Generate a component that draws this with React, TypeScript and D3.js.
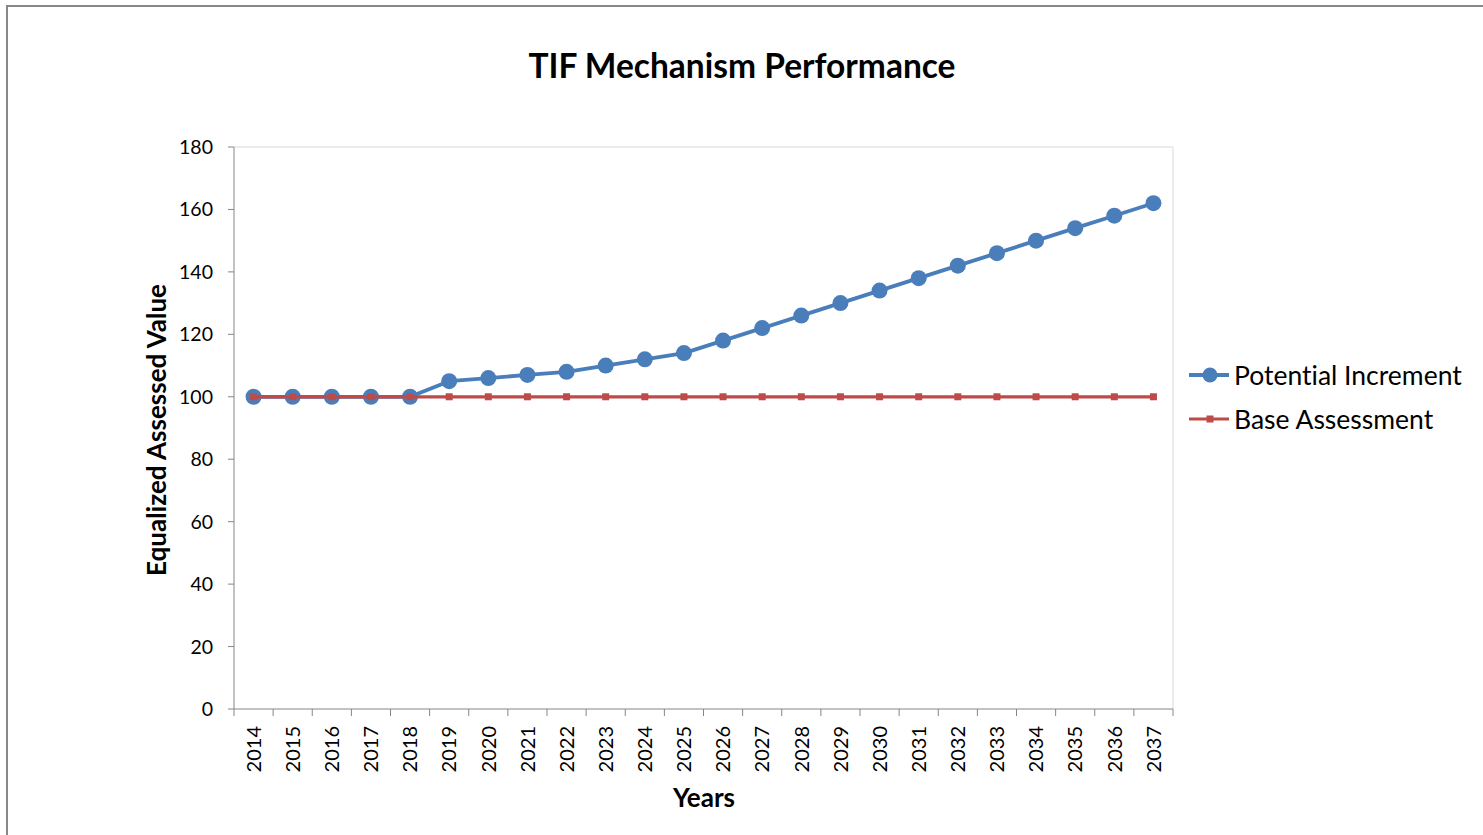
import React from 'react';
import { scaleBand, scaleLinear, line } from 'd3';

// chart data
const years = ['2014', '2015', '2016', '2017', '2018', '2019', '2020', '2021', '2022', '2023', '2024', '2025',
    '2026', '2027', '2028', '2029', '2030', '2031', '2032', '2033', '2034', '2035', '2036', '2037'];
const potentialIncrement = [100, 100, 100, 100, 100, 105, 106, 107, 108, 110, 112, 114,
    118, 122, 126, 130, 134, 138, 142, 146, 150, 154, 158, 162];
const baseAssessment = [100, 100, 100, 100, 100, 100, 100, 100, 100, 100, 100, 100,
    100, 100, 100, 100, 100, 100, 100, 100, 100, 100, 100, 100];
const yTicks = [0, 20, 40, 60, 80, 100, 120, 140, 160, 180];

const FONT = 'Lato, "Open Sans", sans-serif';
const BLUE = '#4A7EBB';
const RED = '#BE4B48';

export default function App() {
    const width = 1483;
    const height = 835;
    const plot = { left: 234, right: 1173, top: 147, bottom: 709 };

    const xScale = scaleBand<string>().domain(years).range([plot.left, plot.right]);
    const yScale = scaleLinear().domain([0, 180]).range([plot.bottom, plot.top]);
    const cx = (y: string) => (xScale(y) ?? 0) + xScale.bandwidth() / 2;

    const pathGen = line<number>()
        .x((_, i) => cx(years[i]))
        .y(d => yScale(d));

    return (
        <svg
            width={width}
            height={height}
            style={{ position: 'absolute', left: 0, top: 0, background: '#fff', fontVariantLigatures: 'none' }}
        >
            {/* outer chart frame */}
            <rect x={7} y={6} width={1500} height={860} fill="#fff" stroke="#888" strokeWidth={2} />

            <text x={742} y={78} textAnchor="middle" fontFamily={FONT} fontSize={33.5} fontWeight="bold" fill="#000">
                TIF Mechanism Performance
            </text>

            {/* plot area border */}
            <line x1={plot.left} x2={plot.right} y1={plot.top} y2={plot.top} stroke="#d9d9d9" />
            <line x1={plot.right} x2={plot.right} y1={plot.top} y2={plot.bottom} stroke="#d9d9d9" />

            {/* y axis */}
            <line x1={plot.left} x2={plot.left} y1={plot.top} y2={plot.bottom} stroke="#868686" />
            {yTicks.map(t => (
                <g key={t}>
                    <line x1={plot.left - 6} x2={plot.left} y1={yScale(t)} y2={yScale(t)} stroke="#868686" />
                    <text x={213} y={yScale(t)} dy="0.36em" textAnchor="end" fontFamily={FONT} fontSize={19.5} fill="#000">
                        {t}
                    </text>
                </g>
            ))}

            {/* x axis */}
            <line x1={plot.left} x2={plot.right} y1={plot.bottom} y2={plot.bottom} stroke="#868686" />
            {years.concat(['end']).map((y, i) => {
                const x = plot.left + i * xScale.bandwidth();
                return <line key={y} x1={x} x2={x} y1={plot.bottom} y2={plot.bottom + 7} stroke="#868686" />;
            })}
            {years.map(y => (
                <text
                    key={y}
                    transform={`translate(${cx(y)}, 726) rotate(-90)`}
                    dy="0.36em"
                    textAnchor="end"
                    fontFamily={FONT}
                    fontSize={20}
                    fill="#000"
                >
                    {y}
                </text>
            ))}

            {/* axis titles */}
            <text x={704} y={807} textAnchor="middle" fontFamily={FONT} fontSize={26} fontWeight="bold" fill="#000">
                Years
            </text>
            <text
                transform="translate(166, 430) rotate(-90)"
                textAnchor="middle"
                fontFamily={FONT}
                fontSize={26}
                fontWeight="bold"
                fill="#000"
            >
                Equalized Assessed Value
            </text>

            {/* series */}
            <path d={pathGen(potentialIncrement) ?? ''} fill="none" stroke={BLUE} strokeWidth={3.8} strokeLinejoin="round" />
            {potentialIncrement.map((v, i) => (
                <circle key={years[i]} cx={cx(years[i])} cy={yScale(v)} r={8} fill={BLUE} />
            ))}
            <path d={pathGen(baseAssessment) ?? ''} fill="none" stroke={RED} strokeWidth={3.2} />
            {baseAssessment.map((v, i) => (
                <rect key={years[i]} x={cx(years[i]) - 3.5} y={yScale(v) - 3.5} width={7} height={7} fill={RED} />
            ))}

            {/* legend */}
            <line x1={1189} x2={1229} y1={375} y2={375} stroke={BLUE} strokeWidth={3.8} />
            <circle cx={1210} cy={375} r={7.5} fill={BLUE} />
            <text x={1234} y={375} dy="0.36em" fontFamily={FONT} fontSize={26.5} fill="#000">Potential Increment</text>
            <line x1={1189} x2={1229} y1={419} y2={419} stroke={RED} strokeWidth={3.2} />
            <rect x={1206.5} y={415.5} width={7} height={7} fill={RED} />
            <text x={1234} y={419} dy="0.36em" fontFamily={FONT} fontSize={26.5} fill="#000">Base Assessment</text>
        </svg>
    );
}
